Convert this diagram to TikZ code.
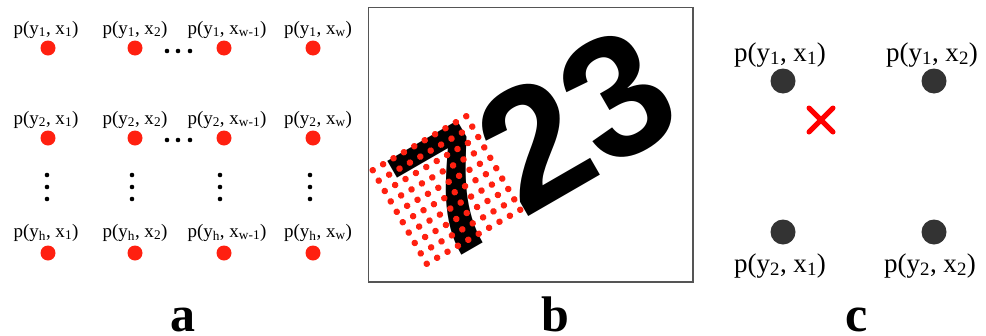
\documentclass[tikz,border=0pt]{standalone}
\usepackage{fontspec}
\setmainfont{Liberation Serif}
\newfontfamily\digitfont{Liberation Sans}
\usepackage{tikz}
\usetikzlibrary{shapes.misc, positioning}
\definecolor{dotred}{RGB}{255,32,16}
\definecolor{crossred}{RGB}{255,0,0}
\definecolor{darkdot}{HTML}{333333}
\definecolor{framegray}{HTML}{555555}

\begin{document}
\begin{tikzpicture}[
    x=1pt, y=-1pt,
    every node/.style={inner sep=0pt, outer sep=0pt},
    plabel/.style={font=\fontsize{19}{19}\selectfont, anchor=base},
    biglabel/.style={font=\fontsize{27}{27}\selectfont, anchor=base},
    panel/.style={font=\fontsize{50}{50}\selectfont\bfseries, anchor=base},
    pix/.style={circle, fill=dotred, minimum size=15pt},
    digit/.style={font=\digitfont\bfseries\fontsize{172}{172}\selectfont, rotate=30, anchor=base west},
    greydot/.style={circle, fill=darkdot, minimum size=25pt},
    cross/.style={cross out, draw=crossred, line width=5pt, line cap=round, minimum size=24pt}
  ]
    \useasboundingbox (0,0) rectangle (986,335);

    % (a) sampling grid
    \foreach \c/\x/\xs/\lx in {1/48/1/46, 2/135/2/135, 3/224/{w-1}/227, 4/313/w/318} {
      \foreach \r/\y/\ys/\ly in {1/48/1/34, 2/138/2/124, 3/253/h/237} {
        \node[pix] (a-\r-\c) at (\x,\y) {};
        \node[plabel] (la-\r-\c) at (\lx,\ly) {p(y\textsubscript{\ys}, x\textsubscript{\xs})};
      }
    }
    \foreach \y in {51,140} {
      \foreach \x in {167,178,190} \fill (\x,\y) circle (2.3pt);
    }
    \foreach \x in {47,132,220,310} {
      \foreach \y in {175,187,199} \fill (\x,\y) circle (2.3pt);
    }

    % (b) image with rotated grid
    \draw[framegray, line width=1.5pt] (368.5,7.5) rectangle (693,282);
    \begin{scope}[shift={(440,267)}, rotate=30]
      \foreach \d/\u in {7/0, 2/96, 3/191} {
        \node[digit] (d\d) at (\u,0) {\d};
      }
    \end{scope}
    \begin{scope}[shift={(446.5,190)}, rotate=30]
      \foreach \i in {0,...,9} {
        \foreach \j in {0,...,9} \fill[dotred] ({(\i-4.5)*12},{(\j-4.5)*12}) circle (3.3pt);
      }
    \end{scope}

    % (c) bilinear interpolation
    \foreach \n/\x/\y in {c11/783/81, c12/934/81, c21/783/232, c22/934/232} {
      \node[greydot] (\n) at (\x,\y) {};
    }
    \node[biglabel] (lc11) at (780,61) {p(y\textsubscript{1}, x\textsubscript{1})};
    \node[biglabel] (lc12) at (932,61) {p(y\textsubscript{1}, x\textsubscript{2})};
    \node[biglabel] (lc21) at (780,272) {p(y\textsubscript{2}, x\textsubscript{1})};
    \node[biglabel] (lc22) at (930,272) {p(y\textsubscript{2}, x\textsubscript{2})};
    \node[cross] (target) at (821,120) {};

    % panel letters
    \foreach \n/\x in {a/183, b/555, c/857} {
      \node[panel] (panel\n) at (\x,331) {\n};
    }
  \end{tikzpicture}
\end{document}
